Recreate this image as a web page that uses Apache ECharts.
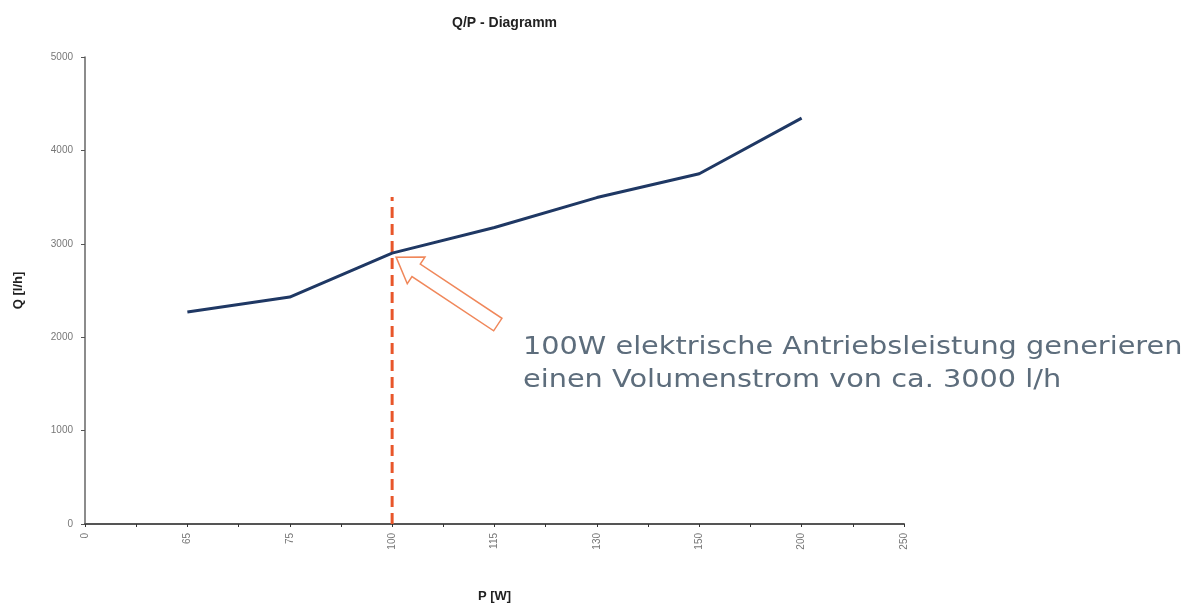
<!DOCTYPE html>
<html><head><meta charset="utf-8">
<script src="https://cdn.jsdelivr.net/npm/echarts@6/dist/echarts.min.js"></script>
<style>html,body{margin:0;padding:0;background:#fff}#c{width:1199px;height:608px}</style>
</head><body><div id="c"></div>
<script>
const pLabels = ['0','65','75','100','115','130','150','200','250'];
const pValues = [65, 75, 100, 115, 130, 150, 200];
const qValues = [2270, 2430, 2900, 3175, 3495, 3750, 4345];
const markP = 100;
const markTop = 3500;
const note = ['100W elektrische Antriebsleistung generieren', 'einen Volumenstrom von ca. 3000 l/h'];

const idx = p => pLabels.indexOf(String(p));
const lineData = pValues.map((p, i) => [idx(p), qValues[i]]);

const chart = echarts.init(document.getElementById('c'));
const option = {
  animation: false,
  backgroundColor: '#fff',
  title: {
    text: 'Q/P - Diagramm', left: 447, top: 11,
    textStyle: { fontFamily: 'Liberation Sans', fontWeight: 'bold', fontSize: 14, color: '#222' }
  },
  grid: { left: 85, right: 295, top: 57, bottom: 82 },
  xAxis: {
    type: 'value', min: 0, max: pLabels.length - 1, interval: 1,
    name: 'P [W]', nameLocation: 'middle', nameGap: 66,
    nameTextStyle: { fontFamily: 'Liberation Sans', fontWeight: 'bold', fontSize: 13, color: '#222' },
    axisLine: { lineStyle: { color: '#555', width: 2 } },
    axisTick: { show: true, length: 3, lineStyle: { color: '#333' } },
    minorTick: { show: true, splitNumber: 2, length: 3, lineStyle: { color: '#333' } },
    splitLine: { show: false },
    axisLabel: { rotate: 90, fontFamily: 'Liberation Sans', fontSize: 10, color: '#777', margin: 9,
      formatter: v => pLabels[Math.round(v)] }
  },
  yAxis: {
    type: 'value', min: 0, max: 5000, interval: 1000,
    name: 'Q [l/h]', nameLocation: 'middle', nameGap: 60, nameRotate: 90,
    nameTextStyle: { fontFamily: 'Liberation Sans', fontWeight: 'bold', fontSize: 13, color: '#222' },
    axisLine: { show: true, lineStyle: { color: '#666', width: 1.5 } },
    axisTick: { show: true, length: 4, lineStyle: { color: '#555' } },
    splitLine: { show: false },
    axisLabel: { fontFamily: 'Liberation Sans', fontSize: 10, color: '#777', margin: 12,
      formatter: v => String(v) }
  },
  series: [
    { type: 'line', data: [[idx(markP), 0], [idx(markP), markTop]], symbol: 'none', z: 1,
      lineStyle: { color: '#e8562a', width: 3, type: [11, 6] } },
    { type: 'line', data: lineData, symbol: 'none', z: 2,
      lineStyle: { color: '#1f3864', width: 3 } }
  ]
};
chart.setOption(option);

// hollow annotation arrow pointing at the 100 W point
const pt = chart.convertToPixel({ gridIndex: 0 }, [idx(markP), qValues[pValues.indexOf(markP)]]);
const tip = [pt[0] + 4, pt[1] + 4];
const dir = [101, 67]; const len = Math.hypot(dir[0], dir[1]);
const u = [dir[0] / len, dir[1] / len], n = [-u[1], u[0]];
const L = 122, h = 24, hw = 16, sw = 7.5;
const P = (a, b) => [tip[0] + u[0] * a + n[0] * b, tip[1] + u[1] * a + n[1] * b];
const arrowPts = [P(0, 0), P(h, hw), P(h, sw), P(L, sw), P(L, -sw), P(h, -sw), P(h, -hw)];

chart.setOption({
  graphic: [
    { type: 'polygon', shape: { points: arrowPts }, style: { fill: '#fff', stroke: '#f0875a', lineWidth: 1.5 }, z: 10 },
    { type: 'text', x: 523, y: 331, scaleX: 1.15, z: 10,
      style: { text: note.join('\n'), font: '25px "DejaVu Sans"', fill: '#5d6d7c', lineHeight: 33 } }
  ]
});
</script>
</body></html>
